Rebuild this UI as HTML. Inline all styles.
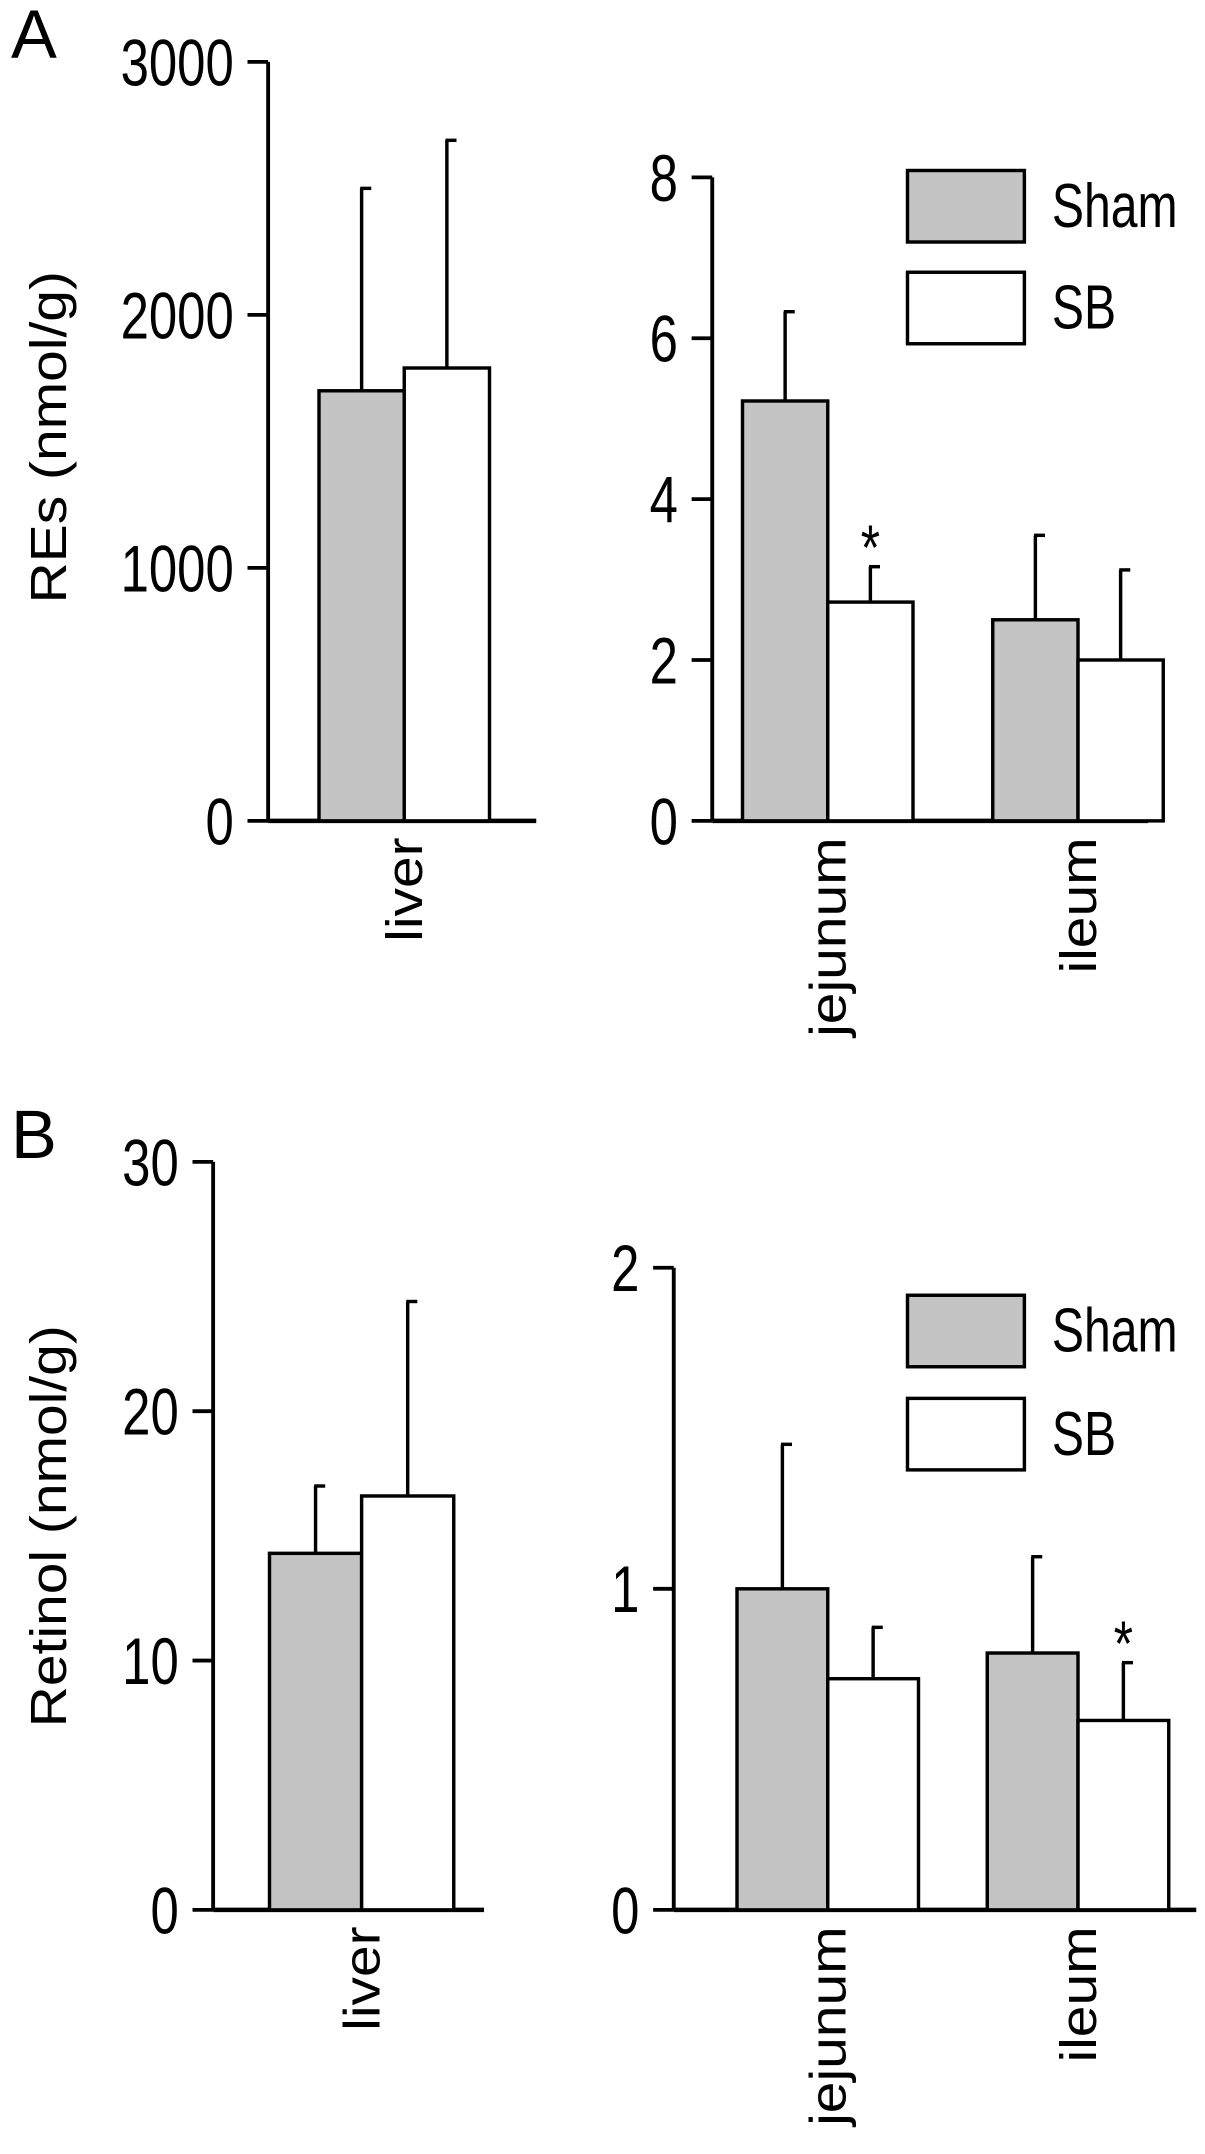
<!DOCTYPE html>
<html><head><meta charset="utf-8"><style>
html,body{margin:0;padding:0;background:#fff}
svg{display:block;font-family:"Liberation Sans",Arial,sans-serif}
</style></head><body>
<svg width="1205" height="2154" viewBox="0 0 1205 2154"><g id="c" transform="scale(1.375)"></g></svg>
<script>
const tissuesLeft=["liver"];
const tissuesRight=["jejunum","ileum"];
const aLiverSham=[1700], aLiverSB=[1790], aLiverShamErr=[800], aLiverSBErr=[900];
const aGutSham=[5.22,2.5], aGutSB=[2.72,2.0], aGutShamErr=[1.11,1.05], aGutSBErr=[0.44,1.12];
const bLiverSham=[14.3], bLiverSB=[16.6], bLiverShamErr=[2.7], bLiverSBErr=[7.8];
const bGutSham=[1.0,0.8], bGutSB=[0.72,0.59], bGutShamErr=[0.45,0.3], bGutSBErr=[0.16,0.18];
const aLeftTicks=[0,1000,2000,3000], aRightTicks=[0,2,4,6,8];
const bLeftTicks=[0,10,20,30], bRightTicks=[0,1,2];
const aStars=[true,false], bStars=[false,true];

const svg=document.getElementById('c');
const NS='http://www.w3.org/2000/svg';
const VS=1.3, RS=1.12;
function mk(t,a,p){const e=document.createElementNS(NS,t);for(const k in a)e.setAttribute(k,a[k]);(p||svg).appendChild(e);return e;}
function txt(x,y,s,size,anchor,rot,vs){
  const e=mk('text',{x:0,y:0,'font-size':size,'text-anchor':anchor||'middle',fill:'#000'});
  const v=vs===undefined?VS:vs;
  e.setAttribute('transform',rot?('translate('+x+' '+y+') rotate(-90) scale('+RS+' 1)'):('translate('+x+' '+y+') scale(1 '+v+')'));
  e.textContent=s;return e;}

function panel(o){
  const g=mk('g',{});
  
  
  const max=o.ticks[o.ticks.length-1];
  const y=v=>o.y0-(v/max)*(o.y0-o.yTop);
  const ax=mk('line',{x1:o.ax,y1:o.yTop,x2:o.ax,y2:o.y0,stroke:'#000','stroke-width':2.8},g);
  
  const bl=mk('line',{x1:o.ax,y1:o.y0,x2:o.xEnd,y2:o.y0,stroke:'#000','stroke-width':3.2},g);
  
  o.ticks.forEach(t=>{
    mk('line',{x1:o.ax-15,y1:y(t),x2:o.ax,y2:y(t),stroke:'#000','stroke-width':2.8},g);
    const l=txt(o.ax-25,y(t)+17,String(t),37,'end');
    
  });
  o.cats.forEach((c,i)=>{
    const cx=o.cx[i];
    const series=[[o.sham[i],o.shamErr[i],'#c4c4c4',cx-o.bw],[o.sb[i],o.sbErr[i],'#fff',cx]];
    series.forEach((s,j)=>{
      const mx=s[3]+o.bw/2;
      const e=mk('line',{x1:mx,y1:y(s[0]),x2:mx,y2:y(s[0]+s[1]),stroke:'#000','stroke-width':2.5},g);
      
      mk('line',{x1:mx-1,y1:y(s[0]+s[1]),x2:mx+7,y2:y(s[0]+s[1]),stroke:'#000','stroke-width':2.5},g);
      const r=mk('rect',{x:s[3],y:y(s[0]),width:o.bw,height:o.y0-y(s[0]),fill:s[2],stroke:'#000','stroke-width':2.5},g);
      
    });
    if(o.stars&&o.stars[i]){const st=txt(cx+o.bw/2,y(o.sb[i]+o.sbErr[i])+2,'*',36,'middle');}
    const cl=txt(cx+13,o.y0+12,c,37,'end',true);
    
  });
}
function legend(x,y1,y2){
  [[y1,'#c4c4c4','Sham'],[y2,'#fff','SB']].forEach(l=>{
    const r=mk('rect',{x:x,y:l[0],width:85,height:52,fill:l[1],stroke:'#000','stroke-width':2.5});
    
    const t=txt(x+105,l[0]+41,l[2],35,'start');
    
  });
}
panel({name:'panel-a-liver',ax:195,yTop:45,y0:597,xEnd:390,ticks:aLeftTicks,cats:tissuesLeft,cx:[294],bw:62,sham:aLiverSham,sb:aLiverSB,shamErr:aLiverShamErr,sbErr:aLiverSBErr});
panel({name:'panel-a-gut',ax:518,yTop:129,y0:597,xEnd:835,ticks:aRightTicks,cats:tissuesRight,cx:[602,784],bw:62,sham:aGutSham,sb:aGutSB,shamErr:aGutShamErr,sbErr:aGutSBErr,stars:aStars});
panel({name:'panel-b-liver',ax:155,yTop:845,y0:1389,xEnd:352,ticks:bLeftTicks,cats:tissuesLeft,cx:[263],bw:67,sham:bLiverSham,sb:bLiverSB,shamErr:bLiverShamErr,sbErr:bLiverSBErr});
panel({name:'panel-b-gut',ax:490,yTop:922,y0:1389,xEnd:870,ticks:bRightTicks,cats:tissuesRight,cx:[602,784],bw:66,sham:bGutSham,sb:bGutSB,shamErr:bGutShamErr,sbErr:bGutSBErr,stars:bStars});
legend(660,124,198);
legend(660,942,1017);
let t=txt(8,42,'A',50,'start',false,1.0);
t=txt(8,842,'B',50,'start',false,1.0);
t=txt(48,318,'REs (nmol/g)',37,'middle',true);
t=txt(48,1110,'Retinol (nmol/g)',37,'middle',true);
</script>
</body></html>
